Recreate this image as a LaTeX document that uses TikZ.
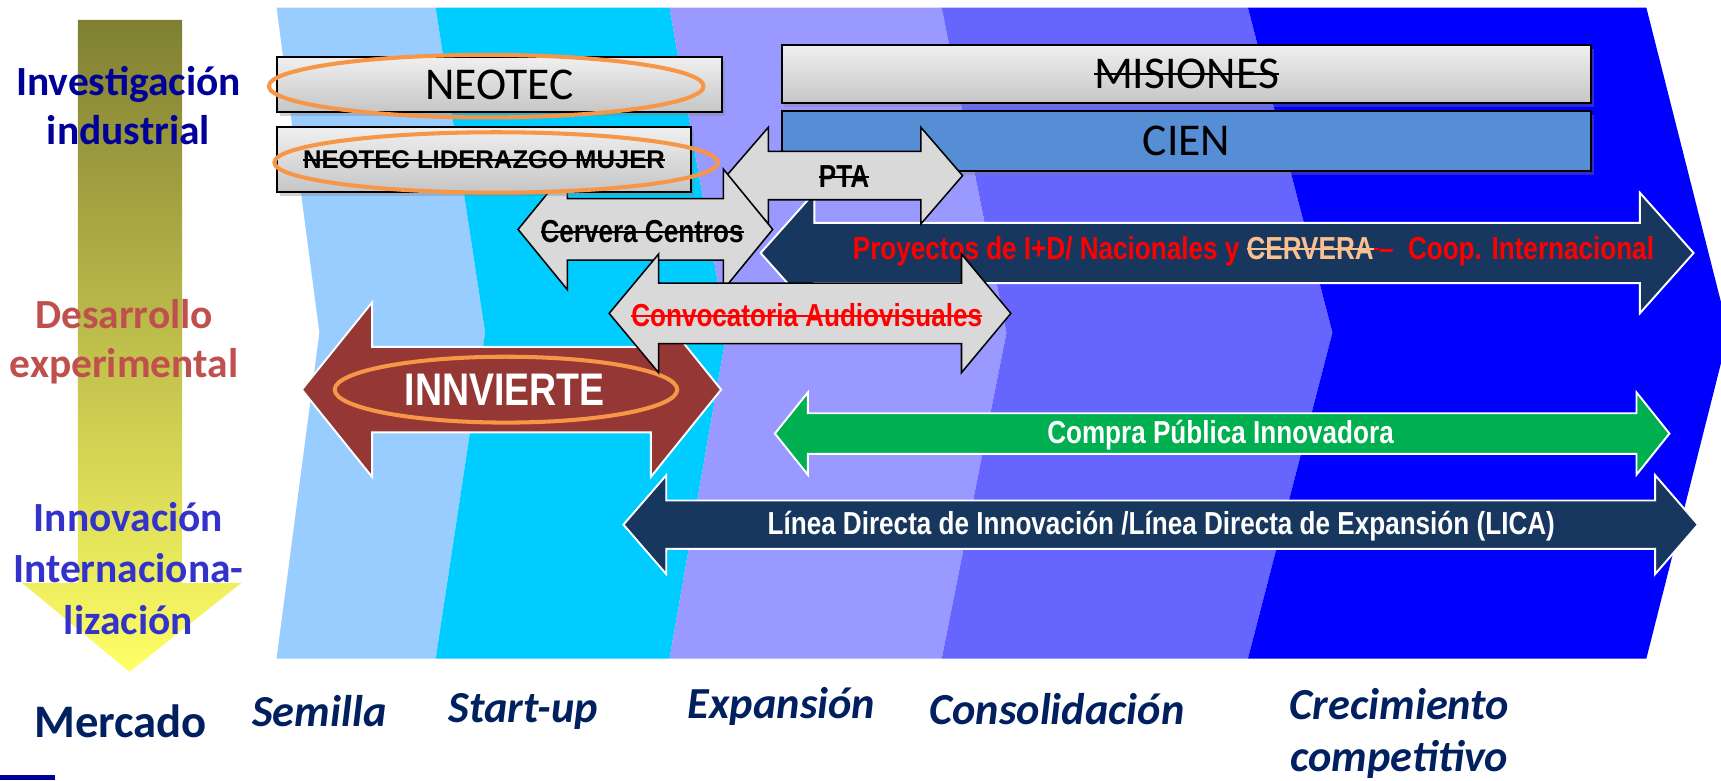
\documentclass[tikz,border=0pt]{standalone}
\usepackage{fontspec}
\setmainfont{Carlito}
\newfontfamily\arialfont{Liberation Sans}
\newfontfamily\narrowfont[FakeStretch=0.82]{Liberation Sans}
\usetikzlibrary{shadows}
\definecolor{bandea}{HTML}{99CCFF}
\definecolor{bandeb}{HTML}{00CCFF}
\definecolor{bandec}{HTML}{9999FF}
\definecolor{banded}{HTML}{6666FF}
\definecolor{bandee}{HTML}{0000FF}
\definecolor{olivefonce}{HTML}{7F7F33}
\definecolor{jaune}{HTML}{FFFF66}
\definecolor{bleuinv}{HTML}{000099}
\definecolor{rougedes}{HTML}{C0504D}
\definecolor{bleuinn}{HTML}{3333CC}
\definecolor{marineetape}{HTML}{002060}
\definecolor{grisfleche}{HTML}{D9D9D9}
\definecolor{marine}{HTML}{17375E}
\definecolor{vert}{HTML}{00B050}
\definecolor{brique}{HTML}{953735}
\definecolor{bleucien}{HTML}{558ED5}
\definecolor{orangeanneau}{HTML}{F79646}
\definecolor{peche}{HTML}{FAC090}
\definecolor{rouge}{HTML}{FF0000}
% texte barré
\newsavebox{\barrebox}
\newcommand{\barre}[1]{\sbox{\barrebox}{#1}\rlap{\usebox{\barrebox}}\rule[0.3em]{\wd\barrebox}{0.9pt}}
% #1 style, #2 x gauche, #3 x droite, #4 y centre, #5 demi-tige, #6 demi-tete, #7 longueur tete
\newcommand{\flechedouble}[7]{%
  \draw[#1] (#2,#4) -- ({#2+#7},{#4-#6}) -- ({#2+#7},{#4-#5}) -- ({#3-#7},{#4-#5})%
  -- ({#3-#7},{#4-#6}) -- (#3,#4) -- ({#3-#7},{#4+#6}) -- ({#3-#7},{#4+#5})%
  -- ({#2+#7},{#4+#5}) -- ({#2+#7},{#4+#6}) -- cycle;}

\begin{document}
\begin{tikzpicture}[x=0.02cm,y=-0.02cm]
    %
    % Définitions
    %
    \pgfmathsetmacro{\yh}{7};%
    \pgfmathsetmacro{\ym}{303};%
    \pgfmathsetmacro{\yb}{600};%
    \pgfmathsetmacro{\xa}{252};%
    \pgfmathsetmacro{\xb}{397};%
    \pgfmathsetmacro{\xc}{610};%
    \pgfmathsetmacro{\xd}{858};%
    \pgfmathsetmacro{\xe}{1137};%
    \pgfmathsetmacro{\xf}{1500};%
    \pgfmathsetmacro{\oa}{39};%
    \pgfmathsetmacro{\ob}{45};%
    \pgfmathsetmacro{\oc}{52};%
    \pgfmathsetmacro{\od}{59};%
    \pgfmathsetmacro{\oe}{77};%
    \pgfmathsetmacro{\of}{75};%

    %
    % Styles
    %
    \tikzset{axe/.style={font=\fontsize{21.5}{25.5}\selectfont\bfseries,align=center,inner sep=0pt}};%
    \tikzset{etape/.style={font=\fontsize{23}{26.7}\selectfont\bfseries\itshape,text=marineetape,align=center,inner sep=0pt}};%
    \tikzset{boite/.style={draw=black,line width=1pt,top color=gray!12,bottom color=gray!45,inner sep=0pt,%
        drop shadow={shadow xshift=1.5pt,shadow yshift=-2pt,opacity=0.35}}};%
    \tikzset{grise/.style={fill=grisfleche,draw=black,line width=0.8pt,line join=miter}};%
    \tikzset{coloree/.style={fill=#1,draw=white,line width=1pt,line join=miter}};%
    \tikzset{txtfleche/.style={font=\fontsize{16.5}{18}\selectfont\narrowfont\bfseries,inner sep=0pt}};%
    \tikzset{anneau/.style={draw=orangeanneau,line width=2.1pt}};%

    %
    % Cadre
    %
    \useasboundingbox (0,0) rectangle (1568,711);%
    \clip (0,0) rectangle (1568,711);%
    \fill[white] (0,0) rectangle (1568,711);%

    % Bandes des étapes
    \fill[bandea] (\xa,\yh) -- (\xb,\yh) -- ({\xb+\ob},\ym) -- (\xb,\yb) -- (\xa,\yb) -- ({\xa+\oa},\ym) -- cycle;%
    \fill[bandeb] (\xb,\yh) -- (\xc,\yh) -- ({\xc+\oc},\ym) -- (\xc,\yb) -- (\xb,\yb) -- ({\xb+\ob},\ym) -- cycle;%
    \fill[bandec] (\xc,\yh) -- (\xd,\yh) -- ({\xd+\od},\ym) -- (\xd,\yb) -- (\xc,\yb) -- ({\xc+\oc},\ym) -- cycle;%
    \fill[banded] (\xd,\yh) -- (\xe,\yh) -- ({\xe+\oe},\ym) -- (\xe,\yb) -- (\xd,\yb) -- ({\xd+\od},\ym) -- cycle;%
    \fill[bandee] (\xe,\yh) -- (\xf,\yh) -- ({\xf+\of},\ym) -- (\xf,\yb) -- (\xe,\yb) -- ({\xe+\oe},\ym) -- cycle;%

    % Flèche verticale
    \shade[top color=olivefonce,bottom color=jaune] (71,18) -- (166,18) -- (166,531) -- (220,531)%
    -- (118,612) -- (20,531) -- (71,531) -- cycle;%
    \fill[bleuinv] (0,706) rectangle (50,711);%

    % Axe vertical
    \node[axe,text=bleuinv] (investigacion) at (117,96) {Investigación\\industrial};%
    \node[axe,text=rougedes] (desarrollo) at (113,311) {Desarrollo\\experimental};%
    \node[axe,text=bleuinn,font=\fontsize{21.5}{26.7}\selectfont\bfseries] (innovacion) at (117,518) {Innovación\\Internaciona-\\lización};%
    \node[inner sep=0pt,text=marineetape,font=\fontsize{24.2}{28}\selectfont\bfseries] (mercado) at (110,657) {Mercado};%

    % Etapes
    \node[etape] (semilla) at (291,648) {Semilla};%
    \node[etape] (startup) at (477,648) {Start-up};%
    \node[etape] (expansion) at (712,644) {Expansión};%
    \node[etape] (consolidacion) at (963,646) {Consolidación};%
    \node[etape] (crecimiento) at (1275,668) {Crecimiento\\competitivo};%

    % Boîtes
    \node[boite,minimum width=14.76cm,minimum height=1.06cm,font=\fontsize{23.6}{26}\selectfont] (misiones) at (1081,67.5) {\barre{MISIONES}};%
    \node[boite,fill=bleucien,top color=bleucien,bottom color=bleucien,minimum width=14.76cm,minimum height=1.1cm,%
        font=\fontsize{23.6}{26}\selectfont] (cien) at (1081,128.5) {CIEN};%
    \node[boite,minimum width=8.12cm,minimum height=1.0cm,font=\fontsize{23.6}{26}\selectfont] (neotec) at (455,77) {NEOTEC};%

    % Flèches
    \flechedouble{coloree=marine}{693}{1543}{230.5}{27.5}{55}{49}%
    \node[txtfleche,text=rouge] (proyectos) at (1142,229) {Proyectos de I+D/ Nacionales y {\color{peche}\barre{CERVERA}}\barre{\,}–\ \ Coop. Internacional};%
    \flechedouble{grise}{662}{877}{160}{22}{44}{38}%
    \node[txtfleche] (pta) at (769,161) {\barre{PTA}};%
    \flechedouble{grise}{472}{704}{209}{28}{55}{45}%
    \node[txtfleche] (cervera) at (585,211) {\barre{Cervera Centros}};%

    \node[boite,minimum width=7.56cm,minimum height=1.18cm,font=\fontsize{13.3}{15}\selectfont\arialfont\bfseries] (liderazgo) at (441,145.5) {\barre{NEOTEC LIDERAZGO MUJER}};%
    \draw[anneau] (443,78.5) ellipse [x radius=198,y radius=28.5];%
    \draw[anneau] (452,148) ellipse [x radius=202,y radius=27.5];%

    \flechedouble{coloree=brique}{275}{657}{355}{39}{79.5}{64}%
    \draw[anneau] (461,355) ellipse [x radius=156,y radius=30];%
    \node[txtfleche,text=white,font=\fontsize{23.7}{26}\selectfont\narrowfont\bfseries] (innvierte) at (460,355) {INNVIERTE};%

    \flechedouble{grise}{555}{921}{285.5}{27.5}{54}{45}%
    \node[txtfleche,text=rouge] (convocatoria) at (735,287) {\barre{Convocatoria Audiovisuales}};%

    \flechedouble{coloree=vert}{706}{1521}{395}{18.5}{37.5}{30}%
    \node[txtfleche,text=white] (compra) at (1112,396.5) {Compra Pública Innovadora};%

    \flechedouble{coloree=marine}{568}{1547}{478}{22}{45}{39}%
    \node[txtfleche,text=white] (linea) at (1058,479) {Línea Directa de Innovación /Línea Directa de Expansión (LICA)};%

\end{tikzpicture}
\end{document}
